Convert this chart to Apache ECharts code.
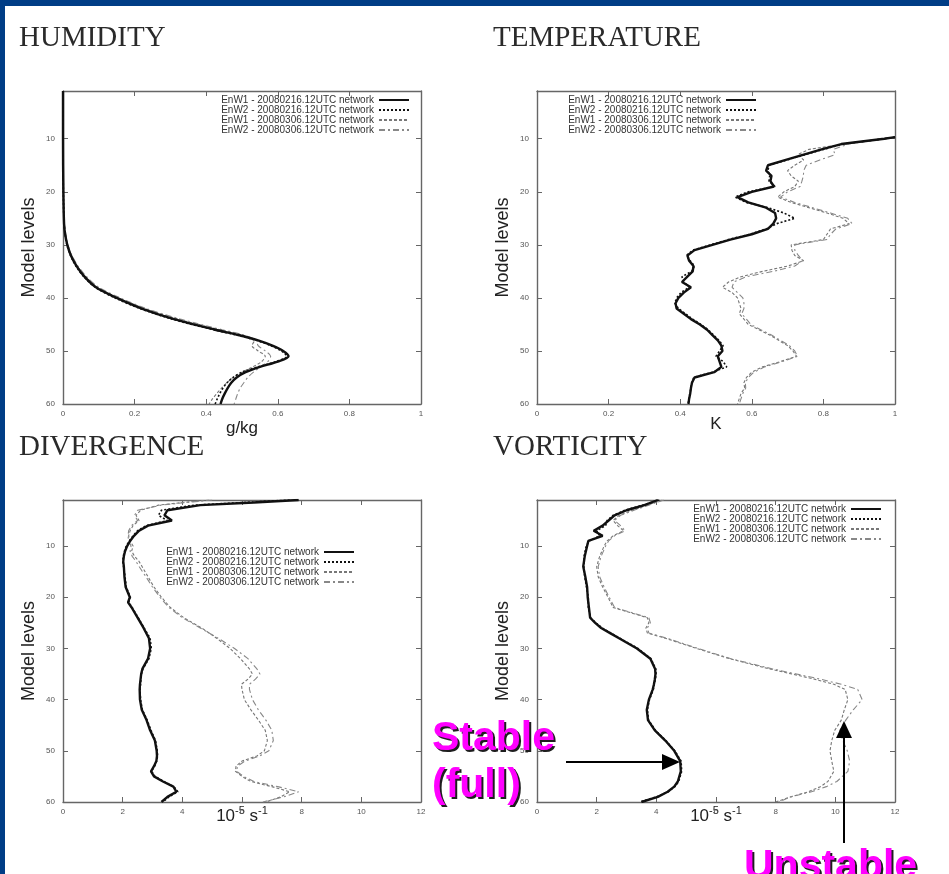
<!DOCTYPE html>
<html>
<head>
<meta charset="utf-8">
<title>EnW network: humidity, temperature, divergence, vorticity</title>
<script src="https://cdn.jsdelivr.net/npm/echarts@6/dist/echarts.min.js"></script>
<style>
html, body { margin: 0; padding: 0; background: #fff; }
#chart { width: 949px; height: 874px; }
</style>
</head>
<body>
<div id="chart"></div>
<script>
var seriesNames = ['EnW1 - 20080216.12UTC network', 'EnW2 - 20080216.12UTC network',
                   'EnW1 - 20080306.12UTC network', 'EnW2 - 20080306.12UTC network'];
var levelTicks = [10, 20, 30, 40, 50, 60];

// HUMIDITY (g/kg)
var humLevels = [1, 10, 20, 26, 28, 30, 32, 34, 36, 38, 40, 42, 44, 46, 47, 48, 49, 50, 51, 52, 53, 54, 55, 56, 57, 58, 59, 60];
var humW1Feb = [0, 0, 0.001, 0.003, 0.006, 0.012, 0.022, 0.038, 0.06, 0.092, 0.15, 0.22, 0.31, 0.425, 0.49, 0.545, 0.585, 0.615, 0.63, 0.6, 0.55, 0.51, 0.485, 0.47, 0.46, 0.452, 0.445, 0.44];
var humW2Feb = [0, 0, 0.001, 0.003, 0.006, 0.011, 0.021, 0.036, 0.058, 0.09, 0.145, 0.215, 0.305, 0.42, 0.485, 0.54, 0.58, 0.61, 0.625, 0.595, 0.545, 0.5, 0.475, 0.458, 0.447, 0.438, 0.431, 0.425];
var humW1Mar = [0, 0, 0.001, 0.004, 0.007, 0.013, 0.024, 0.04, 0.063, 0.097, 0.155, 0.228, 0.322, 0.438, 0.5, 0.535, 0.528, 0.545, 0.565, 0.555, 0.53, 0.5, 0.475, 0.458, 0.443, 0.43, 0.418, 0.408];
var humW2Mar = [0, 0, 0.001, 0.004, 0.008, 0.014, 0.025, 0.042, 0.066, 0.1, 0.16, 0.232, 0.328, 0.445, 0.505, 0.54, 0.545, 0.565, 0.58, 0.572, 0.552, 0.532, 0.516, 0.505, 0.495, 0.488, 0.483, 0.478];

// TEMPERATURE (K)
var tempLevels = [9.7, 10, 11, 12, 13, 14, 15, 16, 17, 18, 19, 20, 21, 22, 23, 24, 25, 26, 27, 28, 29, 30, 31, 32, 33, 34, 35,
                  36, 37, 38, 39, 40, 41, 42, 43, 44, 45, 46, 47, 48, 49, 50, 51, 52, 53, 54, 55, 56, 57, 58, 59, 60];
var tempW1Feb = [1.0, 0.97, 0.85, 0.795, 0.745, 0.695, 0.645, 0.64, 0.655, 0.652, 0.662, 0.6, 0.56, 0.59, 0.64, 0.665, 0.668, 0.66, 0.645, 0.6, 0.54, 0.49, 0.44, 0.42, 0.425, 0.437,
                 0.435, 0.42, 0.405, 0.43, 0.41, 0.395, 0.387, 0.39, 0.41, 0.43, 0.455, 0.475, 0.49, 0.505, 0.515, 0.518, 0.505, 0.51, 0.515, 0.495, 0.44, 0.433, 0.43, 0.428, 0.425, 0.423];
var tempW2Feb = [1.0, 0.97, 0.855, 0.8, 0.748, 0.698, 0.648, 0.645, 0.65, 0.648, 0.665, 0.59, 0.553, 0.585, 0.645, 0.69, 0.72, 0.67, 0.64, 0.595, 0.535, 0.485, 0.435, 0.418, 0.428, 0.44,
                 0.432, 0.405, 0.41, 0.425, 0.402, 0.39, 0.385, 0.395, 0.415, 0.435, 0.458, 0.478, 0.493, 0.508, 0.52, 0.51, 0.5, 0.52, 0.53, 0.49, 0.438, 0.432, 0.43, 0.427, 0.425, 0.422];
var tempW1Mar = [1.0, 0.97, 0.86, 0.76, 0.728, 0.745, 0.72, 0.7, 0.71, 0.73, 0.72, 0.69, 0.672, 0.71, 0.76, 0.81, 0.855, 0.872, 0.82, 0.81, 0.8, 0.71, 0.712, 0.72, 0.745, 0.7,
                 0.63, 0.57, 0.535, 0.518, 0.545, 0.56, 0.565, 0.57, 0.565, 0.578, 0.59, 0.62, 0.65, 0.675, 0.7, 0.715, 0.725, 0.68, 0.63, 0.6, 0.585, 0.578, 0.58, 0.57, 0.565, 0.56];
var tempW2Mar = [1.0, 0.97, 0.87, 0.828, 0.832, 0.79, 0.752, 0.745, 0.744, 0.74, 0.735, 0.7, 0.68, 0.72, 0.77, 0.82, 0.868, 0.88, 0.835, 0.82, 0.81, 0.72, 0.72, 0.73, 0.742, 0.72,
                 0.66, 0.585, 0.55, 0.545, 0.56, 0.575, 0.578, 0.578, 0.572, 0.585, 0.597, 0.625, 0.655, 0.68, 0.705, 0.72, 0.728, 0.685, 0.636, 0.606, 0.59, 0.582, 0.583, 0.575, 0.57, 0.565];

// DIVERGENCE (10^-5 s^-1)
var divLevels = [1, 1.5, 2, 3, 4, 5, 6, 7, 8, 9, 10, 11, 12, 13, 14, 16, 18, 20, 21, 22, 24, 26, 28, 30, 32, 34, 35, 36, 37, 38, 40, 42, 44, 46, 48, 50, 51, 52, 53, 54, 55, 56, 57, 58, 59, 60];
var divW1Feb = [7.9, 6.4, 4.6, 3.5, 3.4, 3.65, 2.85, 2.55, 2.38, 2.25, 2.15, 2.08, 2.04, 2.02, 2.04, 2.06, 2.1, 2.24, 2.18, 2.3, 2.5, 2.7, 2.88, 2.92, 2.85, 2.66, 2.62, 2.6, 2.58, 2.57, 2.58, 2.64, 2.8, 2.92, 3.08, 3.14, 3.15, 3.13, 3.05, 2.95, 3.05, 3.35, 3.7, 3.8, 3.5, 3.3];
var divW2Feb = [7.6, 6.0, 4.4, 3.3, 3.2, 3.5, 2.8, 2.5, 2.35, 2.22, 2.12, 2.06, 2.02, 2.0, 2.03, 2.08, 2.12, 2.26, 2.2, 2.32, 2.52, 2.72, 2.92, 2.96, 2.88, 2.68, 2.63, 2.61, 2.6, 2.58, 2.6, 2.66, 2.82, 2.95, 3.1, 3.16, 3.17, 3.14, 3.07, 2.97, 3.08, 3.38, 3.72, 3.85, 3.55, 3.35];
var divW1Mar = [4.9, 4.0, 3.2, 2.6, 2.45, 2.55, 2.35, 2.25, 2.2, 2.25, 2.35, 2.3, 2.4, 2.55, 2.65, 2.85, 3.05, 3.3, 3.45, 3.6, 4.05, 4.65, 5.15, 5.6, 5.95, 6.25, 6.35, 6.2, 5.98, 6.0, 6.08, 6.3, 6.55, 6.78, 6.85, 6.75, 6.5, 6.0, 5.8, 5.78, 6.0, 6.3, 7.0, 7.6, 7.3, 6.8];
var divW2Mar = [5.0, 4.1, 3.3, 2.5, 2.4, 2.5, 2.3, 2.2, 2.18, 2.2, 2.28, 2.25, 2.32, 2.45, 2.55, 2.78, 3.0, 3.25, 3.4, 3.55, 4.0, 4.6, 5.2, 5.75, 6.2, 6.5, 6.6, 6.45, 6.25, 6.25, 6.35, 6.55, 6.8, 7.0, 7.05, 6.9, 6.6, 6.1, 5.85, 5.82, 6.05, 6.4, 7.2, 7.9, 7.4, 6.7];

// VORTICITY (10^-5 s^-1)
var vortLevels = [1, 2, 3, 4, 5, 6, 7, 8, 9, 10, 12, 14, 16, 18, 20, 22, 24, 25, 26, 27, 28, 30, 32, 34, 35, 36, 37, 38, 40, 42, 44, 46, 48, 50, 52, 54, 56, 57, 58, 59, 60];
var vortW1Feb = [4.05, 3.6, 3.0, 2.6, 2.4, 2.2, 1.9, 2.2, 1.72, 1.68, 1.6, 1.55, 1.62, 1.68, 1.7, 1.74, 1.78, 1.95, 2.15, 2.45, 2.75, 3.35, 3.8, 3.96, 3.97, 3.95, 3.92, 3.88, 3.75, 3.68, 3.72, 3.95, 4.3, 4.6, 4.8, 4.82, 4.72, 4.6, 4.38, 4.05, 3.5];
var vortW2Feb = [4.1, 3.55, 2.95, 2.55, 2.35, 2.3, 2.0, 2.1, 1.75, 1.65, 1.58, 1.57, 1.6, 1.66, 1.72, 1.72, 1.8, 1.97, 2.18, 2.48, 2.78, 3.38, 3.82, 3.98, 3.99, 3.97, 3.93, 3.9, 3.77, 3.7, 3.74, 3.97, 4.32, 4.62, 4.83, 4.85, 4.75, 4.62, 4.4, 4.0, 3.45];
var vortW1Mar = [4.2, 3.7, 3.2, 2.75, 2.55, 2.7, 2.9, 2.55, 2.35, 2.25, 2.1, 2.0, 2.05, 2.2, 2.38, 2.55, 3.7, 3.75, 3.65, 3.7, 4.3, 5.35, 6.45, 7.8, 8.55, 9.3, 9.95, 10.33, 10.42, 10.3, 10.2, 9.98, 9.88, 9.82, 9.88, 9.95, 9.75, 9.5, 9.1, 8.5, 8.0];
var vortW2Mar = [4.25, 3.75, 3.25, 2.8, 2.6, 2.8, 2.95, 2.6, 2.4, 2.3, 2.15, 2.05, 2.1, 2.25, 2.42, 2.6, 3.75, 3.8, 3.7, 3.75, 4.35, 5.4, 6.5, 7.9, 8.7, 9.5, 10.2, 10.75, 10.9, 10.6, 10.35, 10.15, 10.25, 10.4, 10.48, 10.42, 10.05, 9.7, 9.2, 8.5, 8.1];

var chart = echarts.init(document.getElementById('chart'));

var sans = 'Liberation Sans, Arial, sans-serif';
var serif = 'Liberation Serif, Times New Roman, serif';
var axisColor = '#666';

var lineStyles = [
    {color: '#111', width: 2.4, type: 'solid'},
    {color: '#111', width: 1.6, type: [2, 2]},
    {color: '#777', width: 1.1, type: [3, 2]},
    {color: '#888', width: 1.1, type: [6, 3, 2, 3]}
];

var unitName = '{b|10}{s|-5}{b| s}{s|-1}';
var unitStyle = {
    rich: {
        b: {fontSize: 17, fontFamily: sans, color: '#222'},
        s: {fontSize: 11, fontFamily: sans, color: '#222', padding: [0, 0, 12, 0]}
    }
};
var plainName = {fontSize: 17, fontFamily: sans, color: '#222'};

var panels = [
    {title: 'HUMIDITY', titleX: 19, titleY: 24, grid: {left: 63, top: 91, width: 358, height: 313},
     xMax: 1, xStep: 0.2, xName: 'g/kg', nameStyle: plainName, nameGap: 16,
     levels: humLevels, values: [humW1Feb, humW2Feb, humW1Mar, humW2Mar], legendRight: 539, legendTop: 95},
    {title: 'TEMPERATURE', titleX: 493, titleY: 24, grid: {left: 537, top: 91, width: 358, height: 313},
     xMax: 1, xStep: 0.2, xName: 'K', nameStyle: plainName, nameGap: 12,
     levels: tempLevels, values: [tempW1Feb, tempW2Feb, tempW1Mar, tempW2Mar], legendRight: 192, legendTop: 95},
    {title: 'DIVERGENCE', titleX: 19, titleY: 433, grid: {left: 63, top: 500, width: 358, height: 302},
     xMax: 12, xStep: 2, xName: unitName, nameStyle: unitStyle, nameGap: 3,
     levels: divLevels, values: [divW1Feb, divW2Feb, divW1Mar, divW2Mar], legendRight: 594, legendTop: 547},
    {title: 'VORTICITY', titleX: 493, titleY: 433, grid: {left: 537, top: 500, width: 358, height: 302},
     xMax: 12, xStep: 2, xName: unitName, nameStyle: unitStyle, nameGap: 3,
     levels: vortLevels, values: [vortW1Feb, vortW2Feb, vortW1Mar, vortW2Mar], legendRight: 67, legendTop: 504}
];

function toPairs(values, levels) {
    return values.map(function (v, i) { return [v, levels[i]]; });
}

var titles = [], grids = [], xAxes = [], yAxes = [], legends = [], series = [];

panels.forEach(function (p, i) {
    titles.push({
        text: p.title, left: p.titleX, top: p.titleY, padding: 0,
        textStyle: {fontFamily: serif, fontSize: 29, fontWeight: 'normal', color: '#2a2a2a'}
    });
    grids.push(p.grid);

    var line = {show: true, onZero: false, lineStyle: {color: axisColor, width: 1.4}};
    var tick = {show: true, inside: true, length: 5, lineStyle: {color: axisColor, width: 1}};
    xAxes.push({
        gridIndex: i, type: 'value', position: 'bottom', min: 0, max: p.xMax, interval: p.xStep,
        axisLine: line, axisTick: tick, splitLine: {show: false},
        axisLabel: {fontSize: 8, color: '#555', margin: 6, fontFamily: sans},
        name: p.xName, nameLocation: 'middle', nameGap: p.nameGap, nameTextStyle: p.nameStyle,
        nameMoveOverlap: false
    });
    xAxes.push({
        gridIndex: i, type: 'value', position: 'top', min: 0, max: p.xMax, interval: p.xStep,
        axisLine: line, axisTick: tick, splitLine: {show: false}, axisLabel: {show: false}
    });
    yAxes.push({
        gridIndex: i, type: 'value', position: 'left', min: 1, max: 60, inverse: true,
        axisLine: line, splitLine: {show: false},
        axisTick: {show: true, inside: true, length: 5, lineStyle: {color: axisColor, width: 1}, customValues: levelTicks},
        axisLabel: {fontSize: 8, color: '#555', margin: 8, fontFamily: sans, customValues: levelTicks},
        name: 'Model levels', nameLocation: 'middle', nameGap: 25, nameMoveOverlap: false,
        nameTextStyle: {fontSize: 18, fontFamily: sans, color: '#222'}
    });
    yAxes.push({
        gridIndex: i, type: 'value', position: 'right', min: 1, max: 60, inverse: true,
        axisLine: line, splitLine: {show: false}, axisLabel: {show: false},
        axisTick: {show: true, inside: true, length: 5, lineStyle: {color: axisColor, width: 1}, customValues: levelTicks}
    });
    legends.push({
        data: seriesNames, orient: 'vertical', align: 'right', right: p.legendRight, top: p.legendTop,
        itemWidth: 30, itemHeight: 10, itemGap: 0, padding: 0, selectedMode: false,
        itemStyle: {opacity: 0},
        textStyle: {fontSize: 10, color: '#333', fontFamily: sans}
    });

    // grey (March) profiles first so the black ones sit on top
    [2, 3, 0, 1].forEach(function (k) {
        series.push({
            type: 'line', name: seriesNames[k], xAxisIndex: 2 * i, yAxisIndex: 2 * i,
            data: toPairs(p.values[k], p.levels),
            symbol: 'none', smooth: i === 0 ? 0.3 : false, clip: true,
            lineStyle: lineStyles[k], itemStyle: {color: lineStyles[k].color},
            z: k < 2 ? 3 : 2, silent: true, animation: false
        });
    });
});

// magenta call-outs: a dark copy shifted 2px sits under each label as its shadow
var noteFont = 'bold 41px Liberation Sans, Arial, sans-serif';
function note(text, x, y) {
    return [
        {type: 'text', x: x + 2, y: y + 2, z: 10,
         style: {text: text, font: noteFont, fill: '#1e1e1e', textAlign: 'left', textVerticalAlign: 'middle'}},
        {type: 'text', x: x, y: y, z: 11,
         style: {text: text, font: noteFont, fill: '#ff00ff', textAlign: 'left', textVerticalAlign: 'middle'}}
    ];
}

var graphics = [
    {type: 'rect', shape: {x: 0, y: 0, width: 949, height: 6}, style: {fill: '#003d86'}, z: 20},
    {type: 'rect', shape: {x: 0, y: 0, width: 5, height: 874}, style: {fill: '#003d86'}, z: 20},
    {type: 'line', shape: {x1: 566, y1: 762, x2: 664, y2: 762}, style: {stroke: '#000', lineWidth: 2}, z: 10},
    {type: 'polygon', shape: {points: [[680, 762], [662, 754], [662, 770]]}, style: {fill: '#000'}, z: 10},
    {type: 'line', shape: {x1: 844, y1: 843, x2: 844, y2: 736}, style: {stroke: '#000', lineWidth: 2}, z: 10},
    {type: 'polygon', shape: {points: [[844, 721], [836, 738], [852, 738]]}, style: {fill: '#000'}, z: 10}
].concat(note('Stable', 432, 739), note('(full)', 432, 786), note('Unstable', 744, 867));

var option = {
    backgroundColor: '#fff',
    animation: false,
    title: titles,
    grid: grids,
    xAxis: xAxes,
    yAxis: yAxes,
    legend: legends,
    series: series,
    graphic: graphics
};

chart.setOption(option);
</script>
</body>
</html>
